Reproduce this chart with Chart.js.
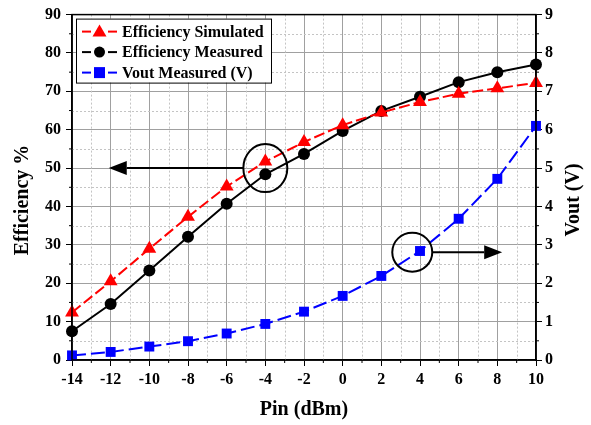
<!DOCTYPE html>
<html>
<head>
<meta charset="utf-8">
<script src="https://cdn.jsdelivr.net/npm/chart.js@4"></script>
<style>
html, body { margin: 0; padding: 0; background: #fff; }
#wrap { width: 591px; height: 425px; }
</style>
</head>
<body>
<div id="wrap"><canvas id="chEff"></canvas></div>
<script>
// data
var pin = [-14, -12, -10, -8, -6, -4, -2, 0, 2, 4, 6, 8, 10];
var effSimulated = [12.4, 20.5, 29.0, 37.3, 45.2, 51.7, 56.8, 61.2, 64.5, 67.2, 69.4, 70.8, 72.2];
var effMeasured = [7.5, 14.6, 23.3, 32.1, 40.7, 48.4, 53.7, 59.7, 64.9, 68.6, 72.4, 75.0, 77.0];
var voutMeasured = [0.12, 0.21, 0.35, 0.49, 0.69, 0.94, 1.26, 1.67, 2.19, 2.84, 3.68, 4.72, 6.1];
var seriesNames = ['Efficiency Simulated', 'Efficiency Measured', 'Vout Measured (V)'];
var axisTitles = { x: 'Pin (dBm)', y: 'Efficiency %', y2: 'Vout (V)' };

var serif = "'Liberation Serif', 'Times New Roman', serif";

function pts(ys) {
    return pin.map(function (x, i) { return { x: x, y: ys[i] }; });
}

// circle + arrow callouts (in data units)
var callouts = [
    { x: -4, y: 50, axis: 'y', rx: 22, ry: 24, toX: -12.1, dir: -1 },
    { x: 3.6, y: 2.81, axis: 'y2', rx: 20, ry: 19.5, toX: 8.25, dir: 1 }
];

var extras = {
    id: 'extras',
    beforeDatasetsDraw: function (chart) {
        var ctx = chart.ctx, a = chart.chartArea;
        var xs = chart.scales.x, ys = chart.scales.y;
        ctx.save();
        ctx.strokeStyle = '#c4c4c4';
        ctx.lineWidth = 1;
        ctx.setLineDash([2, 2]);
        for (var v = -13; v < 10; v += 2) {
            var px = Math.round(xs.getPixelForValue(v)) + 0.5;
            ctx.beginPath(); ctx.moveTo(px, a.top); ctx.lineTo(px, a.bottom); ctx.stroke();
        }
        for (var w = 5; w < 90; w += 10) {
            var py = Math.round(ys.getPixelForValue(w)) + 0.5;
            ctx.beginPath(); ctx.moveTo(a.left, py); ctx.lineTo(a.right, py); ctx.stroke();
        }
        ctx.restore();
    },
    afterDraw: function (chart) {
        var ctx = chart.ctx, a = chart.chartArea;
        var xs = chart.scales.x, ys = chart.scales.y, y2 = chart.scales.y2;
        ctx.save();
        // frame
        ctx.strokeStyle = '#000';
        ctx.lineWidth = 1.5;
        ctx.setLineDash([]);
        ctx.strokeRect(a.left, a.top, a.right - a.left, a.bottom - a.top);
        // minor ticks
        ctx.lineWidth = 1;
        for (var v = -13; v < 10; v += 2) {
            var px = xs.getPixelForValue(v);
            ctx.beginPath(); ctx.moveTo(px, a.bottom); ctx.lineTo(px, a.bottom + 3); ctx.stroke();
        }
        for (var w = 5; w < 90; w += 10) {
            var py = ys.getPixelForValue(w);
            ctx.beginPath(); ctx.moveTo(a.left, py); ctx.lineTo(a.left - 3, py); ctx.stroke();
            ctx.beginPath(); ctx.moveTo(a.right, py); ctx.lineTo(a.right + 3, py); ctx.stroke();
        }
        // axis titles
        ctx.fillStyle = '#000';
        ctx.textAlign = 'center';
        ctx.textBaseline = 'middle';
        ctx.font = 'bold 20px ' + serif;
        ctx.fillText(axisTitles.x, (a.left + a.right) / 2, 410);
        ctx.save();
        ctx.translate(23, 200);
        ctx.rotate(-Math.PI / 2);
        ctx.fillText(axisTitles.y, 0, 0);
        ctx.restore();
        ctx.save();
        ctx.translate(574, 200);
        ctx.rotate(-Math.PI / 2);
        ctx.fillText(axisTitles.y2, 0, 0);
        ctx.restore();
        // callouts
        ctx.strokeStyle = '#000';
        ctx.lineWidth = 2;
        ctx.fillStyle = '#000';
        callouts.forEach(function (c) {
            var sc = c.axis === 'y' ? ys : y2;
            var cx = xs.getPixelForValue(c.x), cy = sc.getPixelForValue(c.y);
            ctx.beginPath();
            ctx.ellipse(cx, cy, c.rx, c.ry, 0, 0, Math.PI * 2);
            ctx.stroke();
            var sx = cx + c.dir * c.rx;
            var tx = xs.getPixelForValue(c.toX);
            var hx = tx - c.dir * 18;
            ctx.beginPath(); ctx.moveTo(sx, cy); ctx.lineTo(hx, cy); ctx.stroke();
            ctx.beginPath();
            ctx.moveTo(tx, cy); ctx.lineTo(hx, cy - 7); ctx.lineTo(hx, cy + 7); ctx.closePath();
            ctx.fill();
        });
        // legend box
        var lx = a.left + 4, ly = a.top + 4, lw = 195, lh = 64;
        ctx.fillStyle = '#fff';
        ctx.fillRect(lx, ly, lw, lh);
        ctx.strokeStyle = '#000';
        ctx.lineWidth = 1;
        ctx.strokeRect(lx + 0.5, ly + 0.5, lw, lh);
        chart.data.datasets.forEach(function (ds, i) {
            var ry = ly + 13 + i * 20.5;
            ctx.strokeStyle = ds.borderColor;
            ctx.lineWidth = 2;
            ctx.setLineDash([]);
            ctx.beginPath(); ctx.moveTo(lx + 6, ry); ctx.lineTo(lx + 15, ry); ctx.stroke();
            ctx.beginPath(); ctx.moveTo(lx + 32, ry); ctx.lineTo(lx + 41, ry); ctx.stroke();
            var mx = lx + 23.5;
            ctx.fillStyle = ds.pointBackgroundColor;
            ctx.beginPath();
            if (ds.pointStyle === 'triangle') {
                ctx.moveTo(mx, ry - 7); ctx.lineTo(mx + 7, ry + 5); ctx.lineTo(mx - 7, ry + 5); ctx.closePath();
            } else if (ds.pointStyle === 'rect') {
                ctx.rect(mx - 5.5, ry - 5.5, 11, 11);
            } else {
                ctx.arc(mx, ry, 5.5, 0, Math.PI * 2);
            }
            ctx.fill();
            ctx.fillStyle = '#000';
            ctx.font = 'bold 16px ' + serif;
            ctx.textBaseline = 'middle';
            ctx.textAlign = 'left';
            ctx.fillText(ds.label, lx + 46, ry + 1);
        });
        ctx.restore();
    }
};

var tickFont = { family: serif, size: 16, weight: 'bold' };

var chEff = document.getElementById('chEff');
new Chart(chEff, {
    type: 'line',
    data: {
        datasets: [
            {
                label: seriesNames[0], data: pts(effSimulated), yAxisID: 'y',
                borderColor: '#ff0000', backgroundColor: '#ff0000', pointBackgroundColor: '#ff0000',
                borderWidth: 2, borderDash: [11, 4], pointStyle: 'triangle', pointRadius: 8,
                pointBorderWidth: 0, tension: 0, clip: false
            },
            {
                label: seriesNames[1], data: pts(effMeasured), yAxisID: 'y',
                borderColor: '#000000', backgroundColor: '#000000', pointBackgroundColor: '#000000',
                borderWidth: 2, pointStyle: 'circle', pointRadius: 6,
                pointBorderWidth: 0, tension: 0, clip: false
            },
            {
                label: seriesNames[2], data: pts(voutMeasured), yAxisID: 'y2',
                borderColor: '#0000ff', backgroundColor: '#0000ff', pointBackgroundColor: '#0000ff',
                borderWidth: 2, borderDash: [14, 5], pointStyle: 'rect', pointRadius: 7,
                pointBorderWidth: 0, tension: 0, clip: false
            }
        ]
    },
    options: {
        responsive: true,
        maintainAspectRatio: false,
        animation: false,
        layout: { padding: { top: 13, left: 0, right: 0, bottom: 0 } },
        plugins: { legend: { display: false }, tooltip: { enabled: false } },
        scales: {
            x: {
                type: 'linear', min: -14, max: 10,
                ticks: { stepSize: 2, color: '#000', padding: 4, font: tickFont },
                grid: { color: '#a0a0a0', tickColor: '#000', tickLength: 6 },
                border: { color: '#000', width: 1.5 },
                afterFit: function (s) { s.height = 65; }
            },
            y: {
                position: 'left', min: 0, max: 90,
                ticks: { stepSize: 10, color: '#000', padding: 5, font: tickFont },
                grid: { color: '#a0a0a0', tickColor: '#000', tickLength: 6 },
                border: { color: '#000', width: 1.5 },
                afterFit: function (s) { s.width = 72; }
            },
            y2: {
                position: 'right', min: 0, max: 9,
                ticks: { stepSize: 1, color: '#000', padding: 3, font: tickFont },
                grid: { drawOnChartArea: false, tickColor: '#000', tickLength: 6 },
                border: { color: '#000', width: 1.5 },
                afterFit: function (s) { s.width = 55; }
            }
        }
    },
    plugins: [extras]
});
</script>
</body>
</html>
